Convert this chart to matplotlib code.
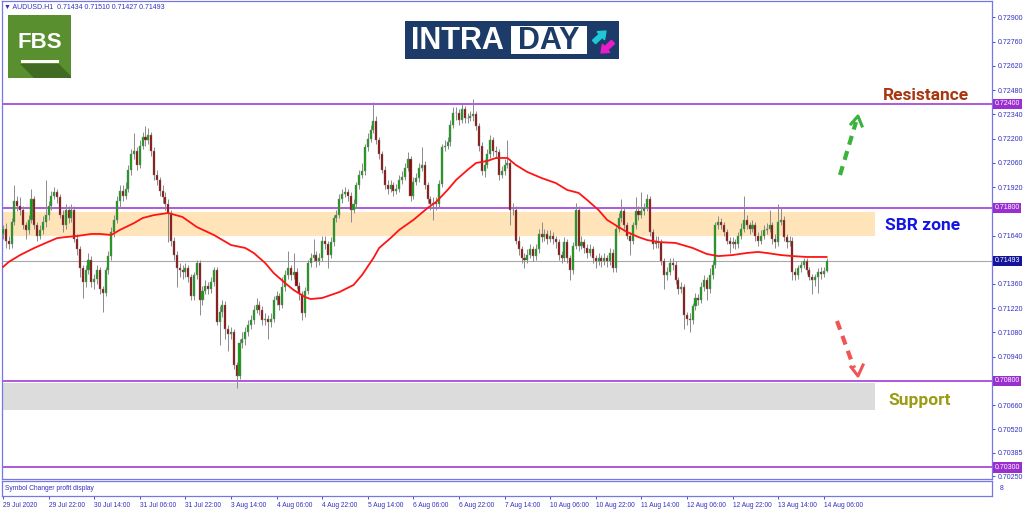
import numpy as np
import matplotlib.pyplot as plt
import matplotlib.transforms as mtransforms
from matplotlib.patches import Rectangle, Polygon

plt.rcParams['font.family'] = ['Liberation Sans', 'DejaVu Sans']

W, H = 1024, 511

# AUDUSD H1 candles, prices in 1e-5 (open of each bar = previous close)
first_open = 71650
closes = [
    71680, 71610, 71590, 71720, 71840, 71810, 71790, 71700, 71670, 71730, 71850, 71700, 71640, 71670, 71720, 71760,
    71810, 71870, 71890, 71860, 71760, 71700, 71790, 71740, 71790, 71620, 71560, 71450, 71370, 71440, 71500, 71370,
    71390, 71440, 71330, 71310, 71440, 71520, 71660, 71730, 71840, 71900, 71870, 71910, 72020, 72110, 72130, 72050,
    72160, 72210, 72190, 72220, 72130, 71990, 71960, 71900, 71860, 71820, 71770, 71610, 71530, 71450, 71440, 71430,
    71450, 71400, 71290, 71410, 71480, 71270, 71320, 71350, 71330, 71370, 71440, 71140, 71200, 71240, 71100, 71070,
    71080, 70890, 70830, 71020, 71040, 71080, 71120, 71150, 71210, 71240, 71210, 71150, 71160, 71140, 71160, 71270,
    71290, 71240, 71340, 71410, 71450, 71410, 71430, 71350, 71300, 71190, 71320, 71480, 71510, 71530, 71490, 71510,
    71610, 71590, 71530, 71600, 71740, 71760, 71850, 71880, 71890, 71870, 71790, 71820, 71930, 71990, 72010, 72150,
    72200, 72250, 72300, 72190, 72110, 72020, 71930, 71910, 71930, 71900, 71910, 71960, 71980, 72030, 72080, 71870,
    71950, 71970, 72030, 72050, 71930, 71850, 71820, 71830, 71820, 71940, 72150, 72160, 72180, 72280, 72350, 72350,
    72310, 72370, 72320, 72320, 72330, 72340, 72270, 72160, 72010, 72050, 72110, 72190, 72130, 72120, 71990, 72010,
    72050, 72060, 71790, 71790, 71610, 71560, 71510, 71500, 71530, 71560, 71520, 71560, 71650, 71630, 71650, 71620,
    71640, 71620, 71600, 71530, 71510, 71600, 71510, 71440, 71580, 71790, 71580, 71600, 71570, 71540, 71560, 71510,
    71490, 71510, 71490, 71510, 71490, 71540, 71450, 71680, 71740, 71780, 71700, 71640, 71610, 71700, 71780, 71760,
    71780, 71800, 71850, 71660, 71590, 71610, 71600, 71490, 71410, 71430, 71480, 71470, 71380, 71330, 71340, 71180,
    71160, 71150, 71230, 71280, 71270, 71340, 71380, 71330, 71410, 71470, 71700, 71720, 71700, 71660, 71610, 71590,
    71600, 71590, 71640, 71680, 71730, 71700, 71680, 71700, 71640, 71610, 71640, 71670, 71680, 71700, 71620, 71600,
    71720, 71730, 71630, 71600, 71610, 71430, 71410, 71450, 71470, 71490, 71440, 71400, 71380, 71400, 71430, 71420,
    71434, 71493,
]
highs = [
    71700, 71710, 71640, 71740, 71930, 71870, 71860, 71810, 71720, 71760, 71910, 71870, 71720, 71700, 71750, 71960,
    71840, 71900, 71920, 71910, 71880, 71790, 71820, 71810, 71820, 71810, 71650, 71580, 71470, 71470, 71540, 71520,
    71420, 71470, 71460, 71350, 71460, 71550, 71690, 71760, 71870, 71930, 71930, 71950, 72050, 72140, 72230, 72150,
    72190, 72240, 72270, 72260, 72240, 72150, 72020, 71980, 71930, 71890, 71850, 71790, 71630, 71550, 71480, 71470,
    71480, 71470, 71420, 71430, 71500, 71500, 71350, 71380, 71370, 71400, 71460, 71460, 71230, 71270, 71260, 71120,
    71110, 71100, 70910, 71040, 71080, 71110, 71150, 71180, 71240, 71280, 71260, 71230, 71190, 71180, 71190, 71290,
    71320, 71310, 71400, 71440, 71550, 71470, 71540, 71450, 71370, 71320, 71340, 71500, 71540, 71620, 71550, 71540,
    71640, 71640, 71610, 71630, 71760, 71790, 71880, 71910, 71920, 71910, 71890, 71850, 71950, 72020, 72060, 72170,
    72230, 72280, 72410, 72330, 72210, 72130, 72040, 71960, 71960, 71950, 71940, 71990, 72010, 72060, 72120, 72100,
    71980, 72000, 72060, 72150, 72070, 71950, 71870, 71860, 71860, 71960, 72170, 72190, 72210, 72310, 72380, 72380,
    72370, 72400, 72390, 72350, 72360, 72430, 72360, 72290, 72180, 72080, 72140, 72220, 72210, 72160, 72140, 72040,
    72080, 72190, 72080, 71830, 71810, 71640, 71580, 71540, 71560, 71590, 71580, 71590, 71680, 71720, 71680, 71670,
    71670, 71660, 71640, 71620, 71550, 71630, 71620, 71530, 71600, 71830, 71810, 71640, 71620, 71590, 71590, 71580,
    71530, 71540, 71530, 71540, 71530, 71570, 71560, 71700, 71770, 71850, 71800, 71720, 71660, 71720, 71860, 71810,
    71890, 71830, 71880, 71870, 71680, 71640, 71640, 71620, 71510, 71460, 71510, 71510, 71490, 71400, 71370, 71360,
    71200, 71190, 71250, 71310, 71300, 71370, 71410, 71400, 71450, 71500, 71720, 71750, 71740, 71720, 71680, 71630,
    71630, 71620, 71660, 71710, 71870, 71760, 71720, 71730, 71720, 71660, 71670, 71700, 71710, 71790, 71720, 71650,
    71820, 71800, 71750, 71650, 71640, 71630, 71450, 71470, 71490, 71510, 71510, 71460, 71420, 71420, 71450, 71460,
    71460, 71510,
]
lows = [
    71620, 71570, 71560, 71570, 71700, 71780, 71760, 71680, 71620, 71650, 71710, 71680, 71610, 71620, 71650, 71690,
    71730, 71790, 71850, 71830, 71740, 71660, 71680, 71710, 71720, 71600, 71530, 71400, 71280, 71340, 71420, 71340,
    71330, 71360, 71300, 71200, 71290, 71420, 71500, 71630, 71710, 71800, 71840, 71850, 71890, 71990, 72080, 72020,
    72030, 72140, 72160, 72170, 72100, 71960, 71930, 71870, 71830, 71790, 71600, 71580, 71500, 71340, 71400, 71390,
    71400, 71370, 71270, 71270, 71390, 71180, 71240, 71300, 71300, 71310, 71350, 71120, 71010, 71170, 71040, 70970,
    71040, 70870, 70760, 70810, 70990, 71010, 71060, 71100, 71130, 71190, 71180, 71120, 71120, 71040, 71110, 71140,
    71240, 71210, 71220, 71320, 71390, 71380, 71390, 71330, 71270, 71150, 71170, 71300, 71460, 71490, 71460, 71470,
    71490, 71560, 71450, 71510, 71580, 71720, 71740, 71830, 71860, 71840, 71720, 71770, 71800, 71910, 71970, 71990,
    72130, 72180, 72230, 72170, 72080, 72000, 71910, 71880, 71890, 71870, 71880, 71890, 71940, 71960, 72010, 71840,
    71850, 71930, 71950, 72010, 71910, 71830, 71790, 71730, 71790, 71800, 71920, 72130, 72140, 72160, 72260, 72310,
    72280, 72290, 72290, 72290, 72300, 72300, 72250, 72130, 71990, 71980, 72030, 72090, 72100, 72090, 71960, 71970,
    71990, 72030, 71700, 71760, 71590, 71530, 71480, 71450, 71480, 71510, 71490, 71500, 71540, 71600, 71610, 71590,
    71600, 71590, 71570, 71500, 71480, 71490, 71480, 71380, 71420, 71560, 71550, 71560, 71540, 71510, 71520, 71480,
    71450, 71470, 71460, 71470, 71460, 71470, 71430, 71430, 71660, 71720, 71680, 71620, 71530, 71590, 71680, 71730,
    71740, 71760, 71780, 71640, 71560, 71570, 71570, 71470, 71330, 71380, 71410, 71440, 71360, 71300, 71310, 71100,
    71120, 71080, 71130, 71210, 71240, 71250, 71320, 71270, 71310, 71390, 71450, 71680, 71680, 71640, 71590, 71540,
    71570, 71560, 71570, 71620, 71660, 71680, 71650, 71660, 71610, 71580, 71590, 71620, 71650, 71660, 71590, 71570,
    71580, 71700, 71610, 71570, 71580, 71380, 71380, 71390, 71430, 71450, 71420, 71380, 71300, 71350, 71310, 71390,
    71400, 71427,
]

# red moving average (bar index, price in 1e-5)
ma_bars = [0, 2, 6, 11, 15, 19, 22, 26, 31, 34, 38, 41, 46, 49, 53, 58, 63, 68, 74, 80,
           85, 88, 92, 95, 99, 102, 106, 108, 112, 115, 118, 123, 126, 130, 132, 136, 139, 144,
           149, 152, 156, 159, 163, 166, 170, 173, 177, 180, 184, 189, 194, 198, 202, 205, 209,
           212, 216, 219, 223, 226, 230, 236, 242, 247, 251, 256, 261, 265, 268, 273, 277, 282, 289]
ma_values = [71458, 71487, 71527, 71568, 71597, 71625, 71631, 71637, 71649, 71649, 71643, 71672,
             71712, 71741, 71758, 71770, 71747, 71689, 71643, 71585, 71568, 71539, 71481, 71423,
             71365, 71325, 71284, 71273, 71279, 71296, 71313, 71354, 71412, 71510, 71568, 71625,
             71672, 71730, 71799, 71834, 71903, 71961, 72019, 72059, 72071, 72088, 72088, 72047,
             72007, 71972, 71943, 71903, 71886, 71845, 71787, 71730, 71689, 71660, 71631, 71614,
             71602, 71597, 71568, 71533, 71521, 71527, 71539, 71545, 71539, 71527, 71521, 71516, 71516]

time_labels = ["29 Jul 2020", "29 Jul 22:00", "30 Jul 14:00", "31 Jul 06:00", "31 Jul 22:00",
               "3 Aug 14:00", "4 Aug 06:00", "4 Aug 22:00", "5 Aug 14:00", "6 Aug 06:00",
               "6 Aug 22:00", "7 Aug 14:00", "10 Aug 06:00", "10 Aug 22:00", "11 Aug 14:00",
               "12 Aug 06:00", "12 Aug 22:00", "13 Aug 14:00", "14 Aug 06:00"]
label_bars = np.arange(0, 289, 16)

price_ticks = [0.72900, 0.72760, 0.72620, 0.72480, 0.72340, 0.72200, 0.72060, 0.71920,
               0.71640, 0.71360, 0.71220, 0.71080, 0.70940, 0.70660, 0.70520, 0.70385, 0.70250]
level_prices = [0.72400, 0.71800, 0.70800, 0.70300]
last_price = 0.71493
sbr_zone = (0.71635, 0.71775)
support_zone = (0.70630, 0.70785)
header = "\u25bc AUDUSD.H1  0.71434 0.71510 0.71427 0.71493"

# ---------------------------------------------------------------------------
c = np.array(closes) / 1e5
o = np.concatenate([[first_open / 1e5], c[:-1]])
hi = np.array(highs) / 1e5
lo = np.array(lows) / 1e5
x = np.arange(len(c))

frame = '#7676E4'
txtc = '#3030C0'
purple = '#A23CD8'

fig = plt.figure(figsize=(W / 100, H / 100), dpi=100)
fig.patch.set_facecolor('white')

ax = fig.add_axes([2 / W, (H - 479) / H, 990 / W, 478 / H])
ax.set_xlim(-0.35, 347.05)
ax.set_ylim(0.70233, 0.72995)
zone_end = 306

ax.add_patch(Rectangle((-0.35, sbr_zone[0]), zone_end + 0.35, sbr_zone[1] - sbr_zone[0],
                       fc='#FFE4BA', ec='none', zorder=0))
ax.add_patch(Rectangle((-0.35, support_zone[0]), zone_end + 0.35, support_zone[1] - support_zone[0],
                       fc='#DCDCDC', ec='none', zorder=0))
for p in level_prices:
    ax.axhline(p, color=purple, lw=1.2, zorder=1)
ax.axhline(last_price, color='#A8A8A8', lw=0.8, zorder=1)

# candles
up = c >= o
ax.vlines(x, lo, hi, color='#8A8A8A', lw=0.7, zorder=2)
ax.bar(x, np.abs(c - o), bottom=np.minimum(o, c), width=0.72,
       color=np.where(up, '#129E12', '#8E0A0A'), edgecolor='#808080', linewidth=0.3, zorder=3)

ax.plot(ma_bars, np.array(ma_values) / 1e5, color='#FF1414', lw=1.3, zorder=4)

# price scale
ax.set_xticks([])
ax.yaxis.tick_right()
ax.set_yticks(price_ticks)
ax.set_yticklabels([f'{p:.5f}' for p in price_ticks])
ax.tick_params(axis='y', length=2.5, width=0.6, color=txtc, labelsize=5,
               labelcolor=txtc, pad=1.5)
for s in ax.spines.values():
    s.set_color(frame)
    s.set_linewidth(0.9)

trans = mtransforms.blended_transform_factory(ax.transAxes, ax.transData)
for p in level_prices:
    ax.text(1.0025, p, f'{p:.5f}', transform=trans, ha='left', va='center', fontsize=5,
            color='white', bbox=dict(boxstyle='square,pad=0.25', fc='#9A2FCF', ec='none'),
            clip_on=False, zorder=6)
ax.text(1.0025, last_price, f'{last_price:.5f}', transform=trans, ha='left', va='center',
        fontsize=5, color='white', bbox=dict(boxstyle='square,pad=0.25', fc='#14149A', ec='none'),
        clip_on=False, zorder=6)

# indicator sub window with the time scale
sub = fig.add_axes([2 / W, (H - 496) / H, 990 / W, 15 / H])
sub.set_xlim(-0.35, 347.05)
sub.set_ylim(0, 1)
sub.set_yticks([])
sub.set_xticks(label_bars)
sub.set_xticklabels(time_labels)
for lbl in sub.get_xticklabels():
    lbl.set_ha('left')
sub.tick_params(axis='x', length=2.5, width=0.6, color=txtc, labelsize=4.8,
                labelcolor=txtc, pad=1.5)
for s in sub.spines.values():
    s.set_color(frame)
    s.set_linewidth(0.9)
sub.text(0.003, 0.5, 'Symbol Changer profit display', transform=sub.transAxes,
         fontsize=4.8, color=txtc, va='center', ha='left')

# pixel overlay for logos and annotations
ov = fig.add_axes([0, 0, 1, 1], zorder=10)
ov.set_xlim(0, W)
ov.set_ylim(H, 0)
ov.axis('off')
ov.patch.set_alpha(0)

ov.text(4, 7, header, fontsize=5, color=txtc, va='center', ha='left')
ov.text(1000, 488, '8', fontsize=5, color=txtc, va='center', ha='left')

# FBS logo
ov.add_patch(Rectangle((8, 15), 63, 63, fc='#5A8F2F', ec='none'))
ov.add_patch(Polygon([(20, 64), (59, 64), (71, 76), (71, 78), (34, 78)], closed=True,
                     fc='#3F6C22', ec='none'))
ov.text(39.5, 43, 'FBS', fontsize=16, fontweight='bold', color='white', ha='center', va='center')
ov.add_patch(Rectangle((21, 60), 38, 3, fc='white', ec='none'))

# INTRADAY logo
ov.add_patch(Rectangle((405, 21), 214, 38, fc='#1C3B68', ec='none'))
ov.add_patch(Rectangle((511, 26), 76, 28, fc='white', ec='none'))
ov.text(411, 41, 'INTRA', fontsize=22, fontweight='bold', color='white', ha='left', va='center')
ov.text(549, 41, 'DAY', fontsize=22, fontweight='bold', color='#1C3B68', ha='center', va='center')
ov.arrow(594, 42, 12, -11, width=4.5, head_width=11, head_length=7, color='#1EC8D4',
         length_includes_head=True)
ov.arrow(613, 42, -12, 11, width=4.5, head_width=11, head_length=7, color='#E81CC8',
         length_includes_head=True)

# level captions
ov.text(926, 96, 'Resistance', fontsize=12.5, fontweight='bold', color='#A8360F',
        ha='center', va='center', family='Roboto')
ov.text(923, 226, 'SBR zone', fontsize=12.5, fontweight='bold', color='#1414E6',
        ha='center', va='center', family='Roboto')
ov.text(920, 400, 'Support', fontsize=12.5, fontweight='bold', color='#9B9B14',
        ha='center', va='center', family='Roboto')

# dashed direction arrows
ov.plot([840, 856], [175, 122], color='#3BB23B', lw=3, ls=(0, (2.2, 1.6)), solid_capstyle='butt')
ov.plot([851, 858, 862], [124, 116, 126], color='#3BB23B', lw=2.2)
ov.plot([837, 854], [321, 368], color='#F05454', lw=3, ls=(0, (2.2, 1.6)), solid_capstyle='butt')
ov.plot([851, 858, 863], [367, 376, 365], color='#F05454', lw=2.2)

fig.savefig('out.png', dpi=100, facecolor='white')
